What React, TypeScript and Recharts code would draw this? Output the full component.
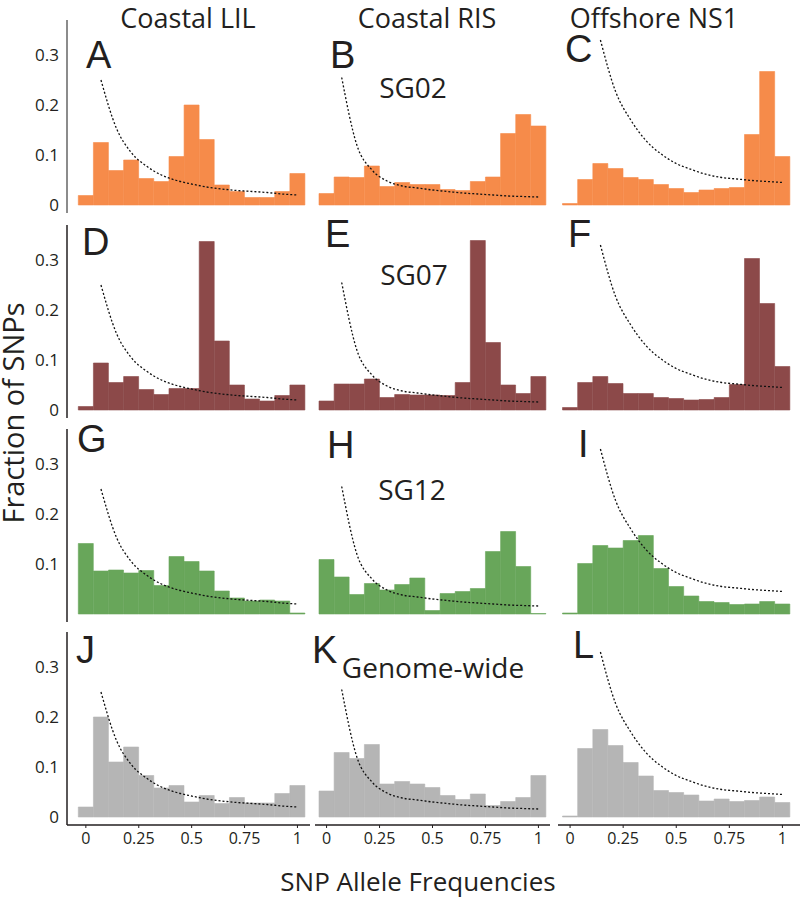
import { ComposedChart, Bar, Line, XAxis, YAxis } from 'recharts'

// allele frequency bins (15 bins, centred on k/14)
const FREQ = [0, 0.0714, 0.1429, 0.2143, 0.2857, 0.3571, 0.4286, 0.5, 0.5714, 0.6429, 0.7143, 0.7857, 0.8571, 0.9286, 1]
const X_TICKS = [0, 0.25, 0.5, 0.75, 1]

// SG02
const SG02_LIL = [0.019, 0.125, 0.069, 0.09, 0.053, 0.047, 0.097, 0.2, 0.131, 0.04, 0.027, 0.015, 0.015, 0.027, 0.063]
const SG02_RIS = [0.023, 0.056, 0.055, 0.078, 0.037, 0.045, 0.041, 0.041, 0.031, 0.029, 0.047, 0.056, 0.143, 0.181, 0.158]
const SG02_NS1 = [0.003, 0.051, 0.083, 0.073, 0.055, 0.051, 0.041, 0.033, 0.025, 0.03, 0.033, 0.035, 0.141, 0.267, 0.097]
// SG07
const SG07_LIL = [0.007, 0.094, 0.055, 0.067, 0.041, 0.031, 0.043, 0.043, 0.337, 0.138, 0.05, 0.022, 0.018, 0.029, 0.05]
const SG07_RIS = [0.018, 0.052, 0.052, 0.062, 0.025, 0.031, 0.03, 0.03, 0.029, 0.055, 0.339, 0.135, 0.05, 0.033, 0.067]
const SG07_NS1 = [0.005, 0.055, 0.067, 0.053, 0.033, 0.033, 0.025, 0.023, 0.02, 0.021, 0.025, 0.051, 0.303, 0.213, 0.087]
// SG12
const SG12_LIL = [0.141, 0.086, 0.088, 0.082, 0.087, 0.057, 0.115, 0.105, 0.086, 0.046, 0.032, 0.026, 0.028, 0.026, 0.002]
const SG12_RIS = [0.109, 0.074, 0.039, 0.061, 0.048, 0.059, 0.072, 0.007, 0.041, 0.045, 0.051, 0.125, 0.165, 0.095, 0.001]
const SG12_NS1 = [0.002, 0.101, 0.137, 0.132, 0.147, 0.157, 0.091, 0.055, 0.036, 0.025, 0.023, 0.019, 0.02, 0.025, 0.02]
// genome-wide
const GW_LIL = [0.02, 0.2, 0.11, 0.14, 0.083, 0.058, 0.063, 0.03, 0.043, 0.027, 0.039, 0.028, 0.028, 0.047, 0.063]
const GW_RIS = [0.052, 0.129, 0.117, 0.145, 0.066, 0.071, 0.066, 0.059, 0.043, 0.035, 0.046, 0.023, 0.031, 0.039, 0.083]
const GW_NS1 = [0.002, 0.137, 0.175, 0.143, 0.109, 0.082, 0.053, 0.049, 0.044, 0.032, 0.036, 0.031, 0.033, 0.04, 0.029]

// neutral expectation (dotted), one per population
const NEUTRAL_LIL = [null, 0.25, 0.155, 0.105, 0.078, 0.06, 0.049, 0.042, 0.036, 0.032, 0.029, 0.027, 0.025, 0.022, 0.02]
const NEUTRAL_RIS = [null, 0.255, 0.12, 0.07, 0.048, 0.038, 0.034, 0.03, 0.027, 0.024, 0.022, 0.02, 0.018, 0.017, 0.016]
const NEUTRAL_NS1 = [null, null, 0.33, 0.227, 0.17, 0.129, 0.102, 0.083, 0.071, 0.061, 0.055, 0.052, 0.049, 0.047, 0.045]

const POPS = ['Coastal LIL', 'Coastal RIS', 'Offshore NS1']
const NEUTRAL = [NEUTRAL_LIL, NEUTRAL_RIS, NEUTRAL_NS1]
const ROWS = [
  { name: 'SG02', color: '#f68b4a', series: [SG02_LIL, SG02_RIS, SG02_NS1], letters: ['A', 'B', 'C'] },
  { name: 'SG07', color: '#8c4949', series: [SG07_LIL, SG07_RIS, SG07_NS1], letters: ['D', 'E', 'F'] },
  { name: 'SG12', color: '#68a65a', series: [SG12_LIL, SG12_RIS, SG12_NS1], letters: ['G', 'H', 'I'] },
  { name: 'Genome-wide', color: '#b5b5b5', series: [GW_LIL, GW_RIS, GW_NS1], letters: ['J', 'K', 'L'] },
]

// layout
const COLS = [
  { left: 8, width: 302, padL: 11.3, padR: 5 },
  { left: 315, width: 235, padL: 4, padR: 4 },
  { left: 558, width: 242, padL: 4.5, padR: 10 },
]
const ROW_TOP = [20, 225, 429, 632]
const PLOT_H = 193
const X_H = 30
const Y_W = 59
const SANS = '"Open Sans", sans-serif'
const INK = '#231f20'

const LETTER_POS = [
  [[86, 68], [330, 68], [565, 62]],
  [[82, 255], [325, 247], [568, 247]],
  [[77, 452], [327, 458], [578, 457]],
  [[76, 663], [312, 663], [573, 658]],
]
const SUB_POS = [[413, 98], [414, 285], [412, 500], [433, 678]]

function Panel({ row, col }: { row: number; col: number }) {
  const c = COLS[col]
  const r = ROWS[row]
  const bottom = row === ROWS.length - 1
  const vals = r.series[col]
  const neutral = NEUTRAL[col]
  const data = FREQ.map((f, i) => ({ f, v: vals[i], n: neutral[i] }))
  const yTicks = row === 2 ? [0.1, 0.2, 0.3] : [0, 0.1, 0.2, 0.3]
  return (
    <div style={{ position: 'absolute', left: c.left, top: ROW_TOP[row] }}>
      <ComposedChart width={c.width} height={PLOT_H + (bottom ? X_H : 0)} data={data} style={{ overflow: 'visible' }}
        margin={{ top: 0, right: 0, bottom: 0, left: 0 }} barCategoryGap={0} barGap={0}>
        <XAxis xAxisId="f" dataKey="f" type="number" domain={[-0.0357, 1.0357]} allowDataOverflow
          ticks={X_TICKS} interval={0} hide={!bottom} height={X_H} padding={{ left: c.padL, right: c.padR }}
          axisLine={{ stroke: INK, strokeWidth: 1.5 }} tickLine={{ stroke: INK }} tickSize={3} tickMargin={5}
          tick={{ fontSize: 16, fontFamily: SANS, fill: INK }} />
        <XAxis xAxisId="cat" dataKey="f" type="category" hide height={0} padding={{ left: c.padL, right: c.padR }} />
        <YAxis domain={[-0.016, 0.37]} allowDataOverflow hide={col > 0} width={Y_W} ticks={yTicks} interval={0}
          tickLine={false} axisLine={{ stroke: row === 0 ? '#666' : INK, strokeWidth: 1.5 }}
          tick={{ fontSize: 17, fontFamily: SANS, fill: INK }} />
        <Bar xAxisId="cat" dataKey="v" fill={r.color} stroke={r.color} strokeWidth={0.6} isAnimationActive={false} />
        <Line xAxisId="f" dataKey="n" type="monotone" stroke="#111" strokeWidth={1.3} strokeDasharray="2 2"
          dot={false} activeDot={false} isAnimationActive={false} />
      </ComposedChart>
    </div>
  )
}

export default function App() {
  return (
    <div style={{ position: 'absolute', left: 0, top: 0, width: 800, height: 899, background: '#fff' }}>
      {ROWS.map((_r, ri) => POPS.map((_p, ci) => <Panel key={`${ri}-${ci}`} row={ri} col={ci} />))}
      <svg width={800} height={899} style={{ position: 'absolute', left: 0, top: 0, pointerEvents: 'none' }}>
        {POPS.map((p, i) => (
          <text key={p} x={[188, 427, 654][i]} y={28} textAnchor="middle" fontFamily={SANS} fontSize={27} fill={INK}>{p}</text>
        ))}
        {ROWS.map((r, ri) => (
          <g key={r.name}>
            {r.letters.map((l, ci) => (
              <text key={l} x={LETTER_POS[ri][ci][0]} y={LETTER_POS[ri][ci][1]} fontFamily='"Liberation Sans", Arial, sans-serif'
                fontSize={38} fill={INK}>{l}</text>
            ))}
            <text x={SUB_POS[ri][0]} y={SUB_POS[ri][1]} textAnchor="middle" fontFamily={SANS} fontSize={28} fill={INK}>{r.name}</text>
          </g>
        ))}
        <text transform="translate(24,413) rotate(-90)" textAnchor="middle" fontFamily={SANS} fontSize={29} fill={INK}>Fraction of SNPs</text>
        <text x={418} y={891} textAnchor="middle" fontFamily={SANS} fontSize={26} fill={INK}>SNP Allele Frequencies</text>
      </svg>
    </div>
  )
}
